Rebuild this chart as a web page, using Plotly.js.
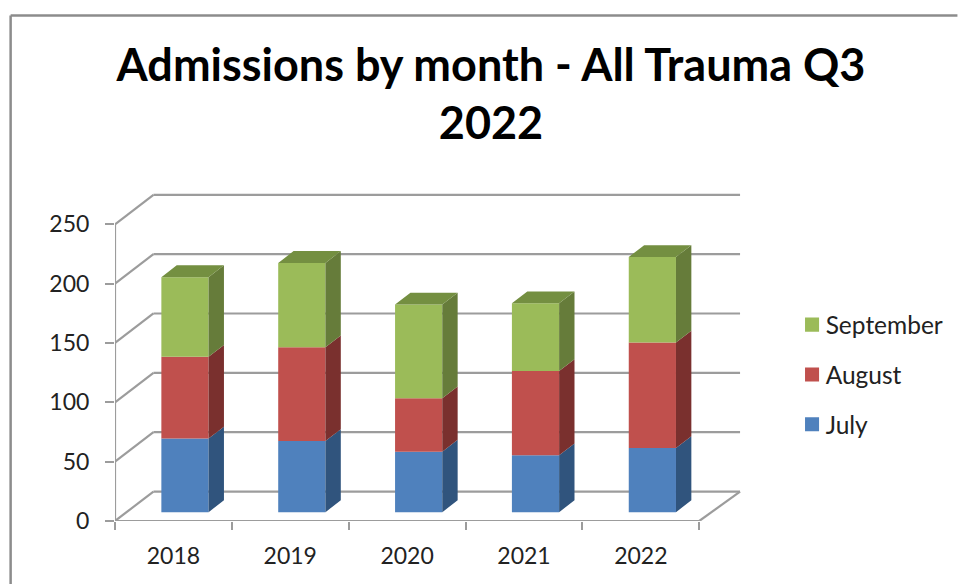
<!DOCTYPE html>
<html>
<head>
<meta charset="utf-8">
<script src="https://cdn.plot.ly/plotly-3.0.1.min.js"></script>
<style>html,body{margin:0;padding:0;background:#fff;overflow:hidden}#chart{width:958px;height:584px}</style>
</head>
<body>
<div id="chart"></div>
<script>
const years = ["2018", "2019", "2020", "2021", "2022"];
const july = [62, 60, 51, 48, 54];
const august = [69, 79, 45, 71, 89];
const september = [67, 71, 79, 57, 72];
const seriesNames = ["July", "August", "September"];
const seriesValues = [july, august, september];
const frontColors = ["#4f81bd", "#c0504d", "#9bbb59"];
const sideColors = ["#30547d", "#7a302e", "#667c3a"];
const topColor = "#748f41";
const yTicks = [0, 50, 100, 150, 200, 250];

// Oblique projection, in axis units: depth 0 is the front plane, depth 1 the back wall.
const depthX = 38.5 / 117, depthY = 29.5 / 1.188;
const barFront = 0.3, barBack = 0.7, barWidth = 0.404;
const project = (c, v, d) => [c + d * depthX, v + d * depthY];

const grid = "#9c9c9c";
const shapes = [];
const seg = (a, b, w) => shapes.push({
  type: "line", xref: "x", yref: "y", layer: "below",
  x0: a[0], y0: a[1], x1: b[0], y1: b[1], line: {color: grid, width: w}
});
const n = years.length;
const wallEnd = n + 0.02;
yTicks.forEach(v => {
  seg(project(0, v, 0), project(0, v, 1), 2.2);
  seg(project(0, v, 1), project(wallEnd, v, 1), 2.2);
});
seg(project(0, 0, 0), project(0, 250, 0), 2.2);
seg(project(0, 0, 0), project(n, 0, 0), 2.2);
seg(project(n, 0, 0), project(wallEnd, 0, 1), 2.2);

// frame of the chart area, top and left only
const L = 114.5, T = 190.7, W = 631.8, H = 330.3;
const px = x => (x - L) / W, py = y => 1 - (y - T) / H;
const frame = (x0, y0, x1, y1) => shapes.push({
  type: "line", xref: "paper", yref: "paper",
  x0: px(x0), y0: py(y0), x1: px(x1), y1: py(y1), line: {color: "#8c8c8c", width: 2.5}
});
frame(10, 15, 958, 15);
frame(10, 15, 10, 584);

const centers = years.map((_, i) => i + 0.5);
const traces = [];
const cum = years.map(() => 0);
const polys = [];
seriesValues.forEach((vals, s) => {
  const base = cum.slice();
  traces.push({
    type: "bar", name: seriesNames[s], legendgroup: seriesNames[s], legendrank: 3 - s,
    x: centers.map(c => project(c, 0, barFront)[0]),
    y: vals, base: base.map(b => project(0, b, barFront)[1]),
    width: barWidth, marker: {color: frontColors[s], line: {width: 0}}, hoverinfo: "skip"
  });
  const sx = [], sy = [];
  vals.forEach((v, i) => {
    const r = centers[i] + barWidth / 2;
    const pts = [project(r, base[i], barFront), project(r, base[i], barBack),
                 project(r, base[i] + v, barBack), project(r, base[i] + v, barFront)];
    pts.concat([pts[0]]).forEach(p => { sx.push(p[0]); sy.push(p[1]); });
    sx.push(null); sy.push(null);
    cum[i] += v;
  });
  polys.push({type: "scatter", mode: "lines", x: sx, y: sy, fill: "toself", fillcolor: sideColors[s],
    line: {width: 0, color: sideColors[s]}, showlegend: false, hoverinfo: "skip"});
});
const tx = [], ty = [];
cum.forEach((v, i) => {
  const l = centers[i] - barWidth / 2, r = centers[i] + barWidth / 2;
  const pts = [project(l, v, barFront), project(r, v, barFront), project(r, v, barBack), project(l, v, barBack)];
  pts.concat([pts[0]]).forEach(p => { tx.push(p[0]); ty.push(p[1]); });
  tx.push(null); ty.push(null);
});
polys.push({type: "scatter", mode: "lines", x: tx, y: ty, fill: "toself", fillcolor: topColor,
  line: {width: 0, color: topColor}, showlegend: false, hoverinfo: "skip"});

const font = "Lato, 'Open Sans', sans-serif";
Plotly.newPlot("chart", traces.concat(polys), {
  width: 958, height: 584, autosize: false,
  paper_bgcolor: "#fff", plot_bgcolor: "rgba(0,0,0,0)",
  margin: {l: L, r: 958 - L - W, t: T, b: 584 - T - H, pad: 0, autoexpand: false},
  barmode: "overlay", showlegend: true,
  font: {family: font, color: "#222"},
  title: {
    text: 'Admissions by month - All Trauma Q3<br>2022',
    font: {family: font, size: 45, color: "#000", weight: 700},
    x: px(491), xanchor: "center", xref: "paper", y: 0.862, yanchor: "top"
  },
  xaxis: {
    range: [0, W / 117], showgrid: false, zeroline: false, showline: false,
    tickmode: "array", tickvals: centers, ticktext: years,
    ticks: "outside", ticklen: 14, tickcolor: "rgba(0,0,0,0)", tickfont: {size: 23, family: font, color: "#222"},
    minor: {tickmode: "array", tickvals: years.concat(["x"]).map((_, i) => i), ticks: "outside", ticklen: 8, tickwidth: 2, tickcolor: grid, showgrid: false}
  },
  yaxis: {
    range: [0, H / 1.188], showgrid: false, zeroline: false, showline: false,
    tickmode: "array", tickvals: yTicks, ticktext: yTicks.map(String),
    ticks: "outside", ticklen: 9, tickwidth: 2, tickcolor: grid, ticklabelstandoff: 11,
    tickfont: {size: 23, family: font, color: "#222"}
  },
  legend: {
    x: px(786), y: py(302), xanchor: "left", yanchor: "top",
    traceorder: "grouped", tracegroupgap: 15,
    font: {size: 24.5, family: font, color: "#222"}, itemclick: false, itemdoubleclick: false,
    bgcolor: "rgba(0,0,0,0)"
  },
  shapes: shapes
}, {displayModeBar: false, staticPlot: true}).then(() => {
  // Excel places the legend swatch closer to its label than Plotly's minimum item width allows.
  document.querySelectorAll("#chart .legend .legendsymbols").forEach(g => g.setAttribute("transform", "translate(3,0) scale(1.17)"));
});
</script>
</body>
</html>
